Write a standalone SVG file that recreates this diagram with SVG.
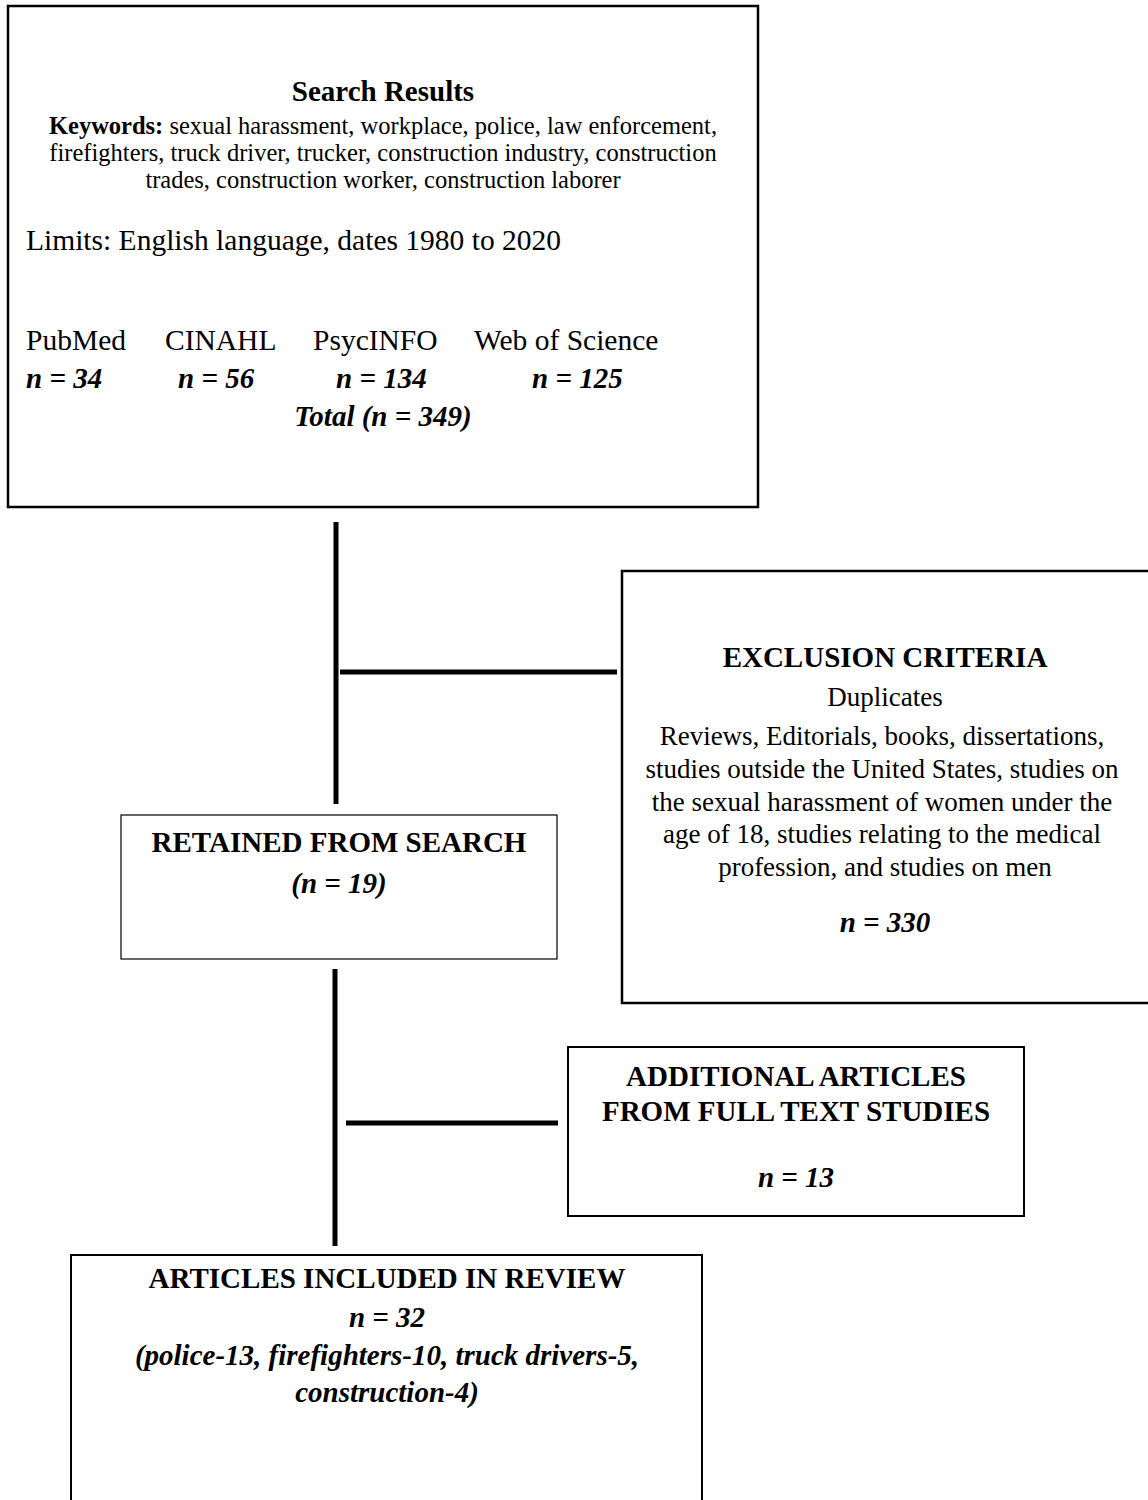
<svg xmlns="http://www.w3.org/2000/svg" width="1148" height="1500" viewBox="0 0 1148 1500">
<style>
text{font-family:"Liberation Serif","Times New Roman",serif;fill:#000}
.h{font-weight:bold;font-size:29px}
.b{font-size:27px}
.k{font-size:24.5px}
.m{font-size:29.5px}
.bi{font-weight:bold;font-style:italic;font-size:29px}
.c{text-anchor:middle}
.box{fill:#fff;stroke:#000}
.conn{stroke:#000;stroke-width:5;fill:none}
</style>
<rect width="1148" height="1500" fill="#fff"/>
<g id="connectors">
<line class="conn" x1="336" y1="522" x2="336" y2="804"/>
<line class="conn" x1="340" y1="672" x2="617" y2="672"/>
<line class="conn" x1="335" y1="969" x2="335" y2="1246"/>
<line class="conn" x1="346" y1="1123" x2="558" y2="1123"/>
</g>
<g id="search-results">
<rect class="box" x="8" y="6" width="750" height="501" stroke-width="2.5"/>
<text class="h c" x="383" y="101">Search Results</text>
<text class="k c" x="383" y="134"><tspan font-weight="bold">Keywords:</tspan> sexual harassment, workplace, police, law enforcement,</text>
<text class="k c" x="383" y="161">firefighters, truck driver, trucker, construction industry, construction</text>
<text class="k c" x="383" y="188">trades, construction worker, construction laborer</text>
<text class="m" x="26" y="250">Limits: English language, dates 1980 to 2020</text>
<text class="m" x="26" y="350">PubMed</text>
<text class="m" x="165" y="350">CINAHL</text>
<text class="m" x="313" y="350">PsycINFO</text>
<text class="m" x="474" y="350">Web of Science</text>
<text class="bi" x="26" y="388">n = 34</text>
<text class="bi" x="178" y="388">n = 56</text>
<text class="bi" x="336" y="388">n = 134</text>
<text class="bi" x="532" y="388">n = 125</text>
<text class="bi c" x="383" y="426">Total (n = 349)</text>
</g>
<g id="exclusion-criteria">
<rect class="box" x="622" y="571" width="530" height="432" stroke-width="2.5"/>
<text class="h c" x="885" y="667">EXCLUSION CRITERIA</text>
<text class="b c" x="885" y="706">Duplicates</text>
<text class="b c" x="882" y="745">Reviews, Editorials, books, dissertations,</text>
<text class="b c" x="882" y="778">studies outside the United States, studies on</text>
<text class="b c" x="882" y="811">the sexual harassment of women under the</text>
<text class="b c" x="882" y="843">age of 18, studies relating to the medical</text>
<text class="b c" x="885" y="876">profession, and studies on men</text>
<text class="bi c" x="885" y="932">n = 330</text>
</g>
<g id="retained">
<rect class="box" x="121" y="815" width="436" height="144" stroke-width="1.2"/>
<text class="h c" x="339" y="852">RETAINED FROM SEARCH</text>
<text class="bi c" x="339" y="893">(n = 19)</text>
</g>
<g id="additional">
<rect class="box" x="568" y="1047" width="456" height="169" stroke-width="2"/>
<text class="h c" x="796" y="1086">ADDITIONAL ARTICLES</text>
<text class="h c" x="796" y="1121">FROM FULL TEXT STUDIES</text>
<text class="bi c" x="796" y="1187">n = 13</text>
</g>
<g id="included">
<rect class="box" x="71" y="1255" width="631" height="260" stroke-width="2"/>
<text class="h c" x="387" y="1288">ARTICLES INCLUDED IN REVIEW</text>
<text class="bi c" x="387" y="1327">n = 32</text>
<text class="bi c" x="387" y="1365">(police-13, firefighters-10, truck drivers-5,</text>
<text class="bi c" x="387" y="1402">construction-4)</text>
</g>
</svg>
